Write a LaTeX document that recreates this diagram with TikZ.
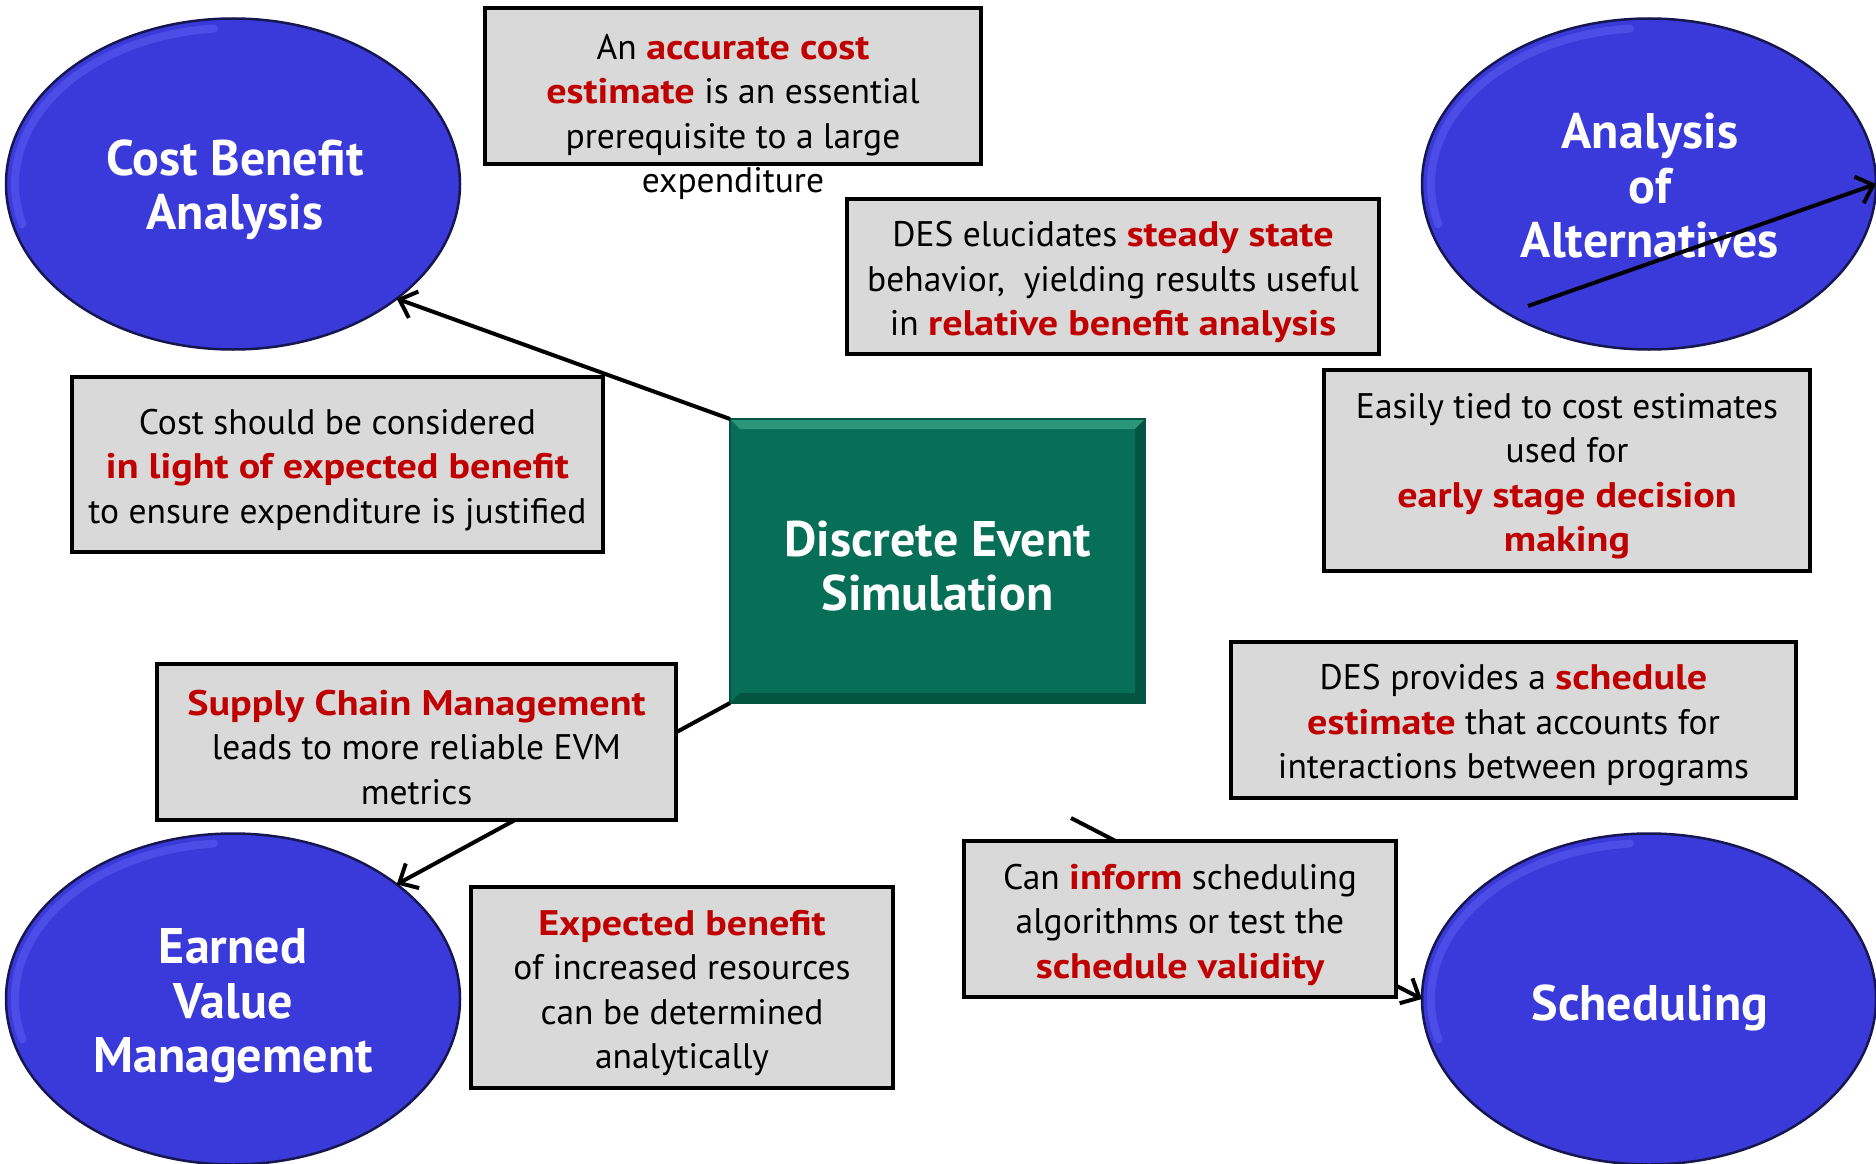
\documentclass[tikz,border=0pt]{standalone}
\usepackage{fontspec}
\setmainfont{PT Sans}
\newfontfamily\keyfamily{PT Sans}[FakeStretch=1.13]
\usetikzlibrary{shapes.geometric,arrows.meta,calc}

\definecolor{topicblue}{RGB}{58,58,218}
\definecolor{rimdark}{RGB}{22,22,80}
\definecolor{rimlight}{RGB}{84,84,236}
\definecolor{desgreen}{RGB}{7,111,88}
\definecolor{desgreenlight}{RGB}{44,150,120}
\definecolor{desgreendark}{RGB}{4,84,66}
\definecolor{notegray}{RGB}{217,217,217}
\definecolor{keyred}{RGB}{192,0,0}

\newcommand\keyterm[1]{\textcolor{keyred}{\keyfamily\bfseries #1}}

\tikzset{
  topic/.style={ellipse, fill=topicblue, draw=rimdark, line width=2.5pt,
    minimum width=454pt, minimum height=331pt, inner sep=0pt, outer sep=0pt},
  title/.style={text=white, align=center, inner sep=0pt,
    font=\fontsize{50}{54.5}\selectfont\bfseries},
  notebox/.style={rectangle, fill=notegray, draw=black, line width=4pt,
    inner sep=0pt, outer sep=0pt},
  notetext/.style={align=center, inner sep=0pt,
    font=\fontsize{35.5}{44.5}\selectfont},
  link/.style={draw=black, line width=4pt},
  tip/.style={-{Straight Barb[length=15pt,width=28pt,line width=4pt]}},
  rimglow/.style={rimlight, line width=8pt, line cap=round, opacity=0.7}
}

\begin{document}
\begin{tikzpicture}[x=1pt, y=-1pt]
\useasboundingbox (0,0) rectangle (1876,1164);

% topic ellipses
\node[topic] (cba) at (233,184) {};
\node[topic] (aoa) at (1649,184) {};
\node[topic] (evm) at (233,999) {};
\node[topic] (sch) at (1649,999) {};

% soft highlight along the upper-left rim of each ellipse
\foreach \e in {cba,aoa,evm,sch}{
  \draw[rimglow] ($(\e.center)+(95:218pt and 156pt)$)
    arc[start angle=95, end angle=195, x radius=218pt, y radius=156pt];
}

% titles
\node[title] (cbatext) at (235,190) {Cost Benefit\\Analysis};
\node[title] (aoatext) at (1650,186) {Analysis\\of\\Alternatives};
\node[title] (evmtext) at (233,1006) {Earned\\Value\\Management};
\node[title] (schtext) at (1650,1008) {Scheduling};

% central block
\node[rectangle, fill=desgreen, draw=desgreendark, line width=1.5pt,
      minimum width=415pt, minimum height=284pt, inner sep=0pt, outer sep=0pt]
      (des) at (937.5,561) {};
\fill[desgreenlight] (des.north west) -- (des.north east)
   -- ($(des.north east)+(-10,10)$) -- ($(des.north west)+(10,10)$) -- cycle;
\fill[desgreendark] (des.south west) -- (des.south east)
   -- ($(des.south east)+(-10,-10)$) -- ($(des.south west)+(10,-10)$) -- cycle;
\fill[desgreendark] (des.north east) -- (des.south east)
   -- ($(des.south east)+(-10,-10)$) -- ($(des.north east)+(-10,10)$) -- cycle;
\draw[desgreendark, line width=1.5pt] (des.north west) rectangle (des.south east);
\node[title] (destext) at (937.5,566) {Discrete Event\\Simulation};

% connectors
\coordinate (aoastart) at (1528,306);
\coordinate (schstart) at (1071,818);
\draw[link, tip] (des.north west) -- (cba.-35);
\draw[link, tip] (des.south west) -- (evm.35);
\draw[link, tip] (aoastart) -- (aoa.east);
\draw[link, tip] (schstart) -- (sch.west);

% note boxes
\node[notebox, minimum width=496pt, minimum height=156pt] (n1) at (733,86) {};
\node[notetext] (n1text) at (733,117)
  {An \keyterm{accurate cost}\\\keyterm{estimate} is an essential\\prerequisite to a large\\expenditure};

\node[notebox, minimum width=532pt, minimum height=155pt] (n2) at (1113,276.5) {};
\node[notetext] (n2text) at (1113,282)
  {DES elucidates \keyterm{steady state}\\behavior,\ \ yielding results useful\\in \keyterm{relative benefit analysis}};

\node[notebox, minimum width=486pt, minimum height=201pt] (n3) at (1567,470.5) {};
\node[notetext] (n3text) at (1567,476)
  {Easily tied to cost estimates\\used for\\\keyterm{early stage decision}\\\keyterm{making}};

\node[notebox, minimum width=531pt, minimum height=175pt] (n4) at (337.5,464.5) {};
\node[notetext] (n4text) at (337.5,470)
  {Cost should be considered\\\keyterm{in light of expected benefit}\\to ensure expenditure is justified};

\node[notebox, minimum width=519pt, minimum height=156pt] (n5) at (416.5,742) {};
\node[notetext] (n5text) at (416.5,747.5)
  {\keyterm{Supply Chain Management}\\leads to more reliable EVM\\metrics};

\node[notebox, minimum width=565pt, minimum height=156pt] (n6) at (1513.5,720) {};
\node[notetext] (n6text) at (1513.5,725.5)
  {DES provides a \keyterm{schedule}\\\keyterm{estimate} that accounts for\\interactions between programs};

\node[notebox, minimum width=422pt, minimum height=201pt] (n7) at (682,987.5) {};
\node[notetext] (n7text) at (682,993)
  {\keyterm{Expected benefit}\\of increased resources\\can be determined\\analytically};

\node[notebox, minimum width=432pt, minimum height=156pt] (n8) at (1180,919) {};
\node[notetext] (n8text) at (1180,924.5)
  {Can \keyterm{inform} scheduling\\algorithms or test the\\\keyterm{schedule validity}};

\end{tikzpicture}
\end{document}
